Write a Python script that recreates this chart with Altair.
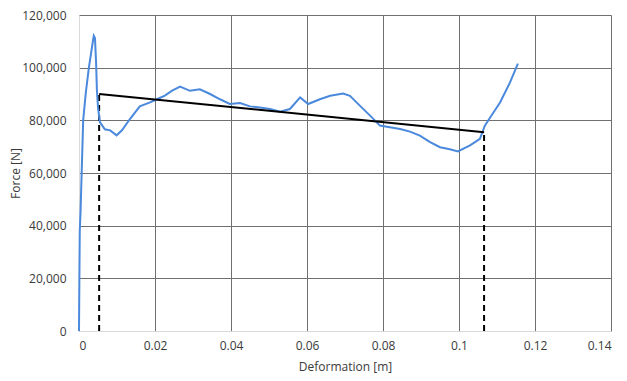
import altair as alt
import pandas as pd

# Force-deformation curve
deform = [0.0, 0.0001, 0.0002, 0.0004, 0.0007, 0.0011, 0.0018, 0.0026, 0.0034, 0.0037,
          0.0039, 0.0042, 0.0045, 0.0047, 0.0050, 0.0055, 0.0068, 0.0082, 0.0099, 0.0113,
          0.0134, 0.0160, 0.0187, 0.0205, 0.0226, 0.0245, 0.0266, 0.0292, 0.0318, 0.0345,
          0.0371, 0.0397, 0.0424, 0.0450, 0.0476, 0.0503, 0.0529, 0.0555, 0.0582, 0.0603,
          0.0634, 0.0661, 0.0695, 0.0713, 0.0739, 0.0766, 0.0792, 0.0818, 0.0845, 0.0871,
          0.0897, 0.0924, 0.0950, 0.0976, 0.0997, 0.1029, 0.1045, 0.1055, 0.1068, 0.1082,
          0.1108, 0.1134, 0.1155]
force = [0, 20000, 38000, 45000, 60000, 80000, 90600, 100000, 107600, 110500,
         112100, 111300, 101900, 91800, 84900, 79300, 76600, 76200, 74300, 76200,
         80500, 85300, 86800, 88000, 89400, 91300, 92800, 91200, 91800, 90000,
         88000, 86200, 86600, 85300, 84900, 84300, 83300, 84300, 88700, 86200,
         88000, 89300, 90200, 89300, 85600, 81800, 78000, 77400, 76700, 75700,
         74200, 71700, 69800, 69000, 68200, 70500, 72000, 73000, 78000, 81100,
         86800, 94300, 101500]

# Fitted straight line and its end markers
line_x = [0.0053, 0.1066]
line_y = [90000, 75500]

x_ticks = [0, 0.02, 0.04, 0.06, 0.08, 0.1, 0.12, 0.14]
y_ticks = [0, 20000, 40000, 60000, 80000, 100000, 120000]

curve_df = pd.DataFrame({"x": deform, "y": force, "i": range(len(deform))})
seg_df = pd.DataFrame({"x": line_x, "y": line_y})
drop_df = pd.DataFrame({"x": line_x, "y": [0, 0], "y2": line_y})

FONT = "Open Sans"
TXT = "#3a3a3a"
GRID = "#707070"

xscale = alt.Scale(domain=[0, 0.14], nice=False, zero=True)
yscale = alt.Scale(domain=[0, 120000], nice=False)

xaxis = alt.Axis(values=x_ticks, format="~g", title="Deformation [m]", grid=True,
                 gridColor=GRID, gridWidth=1, domainColor="#d9d9d9", ticks=False,
                 labelPadding=9, labelFont=FONT, labelFontSize=12, labelColor=TXT,
                 titleFont=FONT, titleFontSize=12, titleFontWeight="normal",
                 titleColor=TXT, titlePadding=10)
yaxis = alt.Axis(values=y_ticks, format=",.0f", title="Force [N]", grid=True,
                 gridColor=GRID, gridWidth=1, domainColor="#d9d9d9", ticks=False,
                 labelPadding=13, labelFont=FONT, labelFontSize=12, labelColor=TXT,
                 titleFont=FONT, titleFontSize=12, titleFontWeight="normal",
                 titleColor=TXT, titleAngle=-90, titleAlign="center",
                 titleBaseline="middle", titleX=-64, titleY=158)

curve = alt.Chart(curve_df).mark_line(color="#4a89dc", strokeWidth=2).encode(
    x=alt.X("x:Q", scale=xscale, axis=xaxis),
    y=alt.Y("y:Q", scale=yscale, axis=yaxis),
    order="i:Q",
)

seg = alt.Chart(seg_df).mark_line(color="black", strokeWidth=2).encode(
    x=alt.X("x:Q", scale=xscale),
    y=alt.Y("y:Q", scale=yscale),
)

drops = alt.Chart(drop_df).mark_rule(color="black", strokeWidth=2, strokeDash=[6, 4]).encode(
    x=alt.X("x:Q", scale=xscale),
    y=alt.Y("y:Q", scale=yscale),
    y2="y2:Q",
)

chart = alt.layer(drops, curve, seg).properties(
    width=532, height=316,
    autosize="none",
    padding={"left": 71, "top": 7, "right": 8, "bottom": 42},
    background="white",
).configure_view(stroke=None)

chart.save("out.html", embed_options={"renderer": "svg", "actions": False})
